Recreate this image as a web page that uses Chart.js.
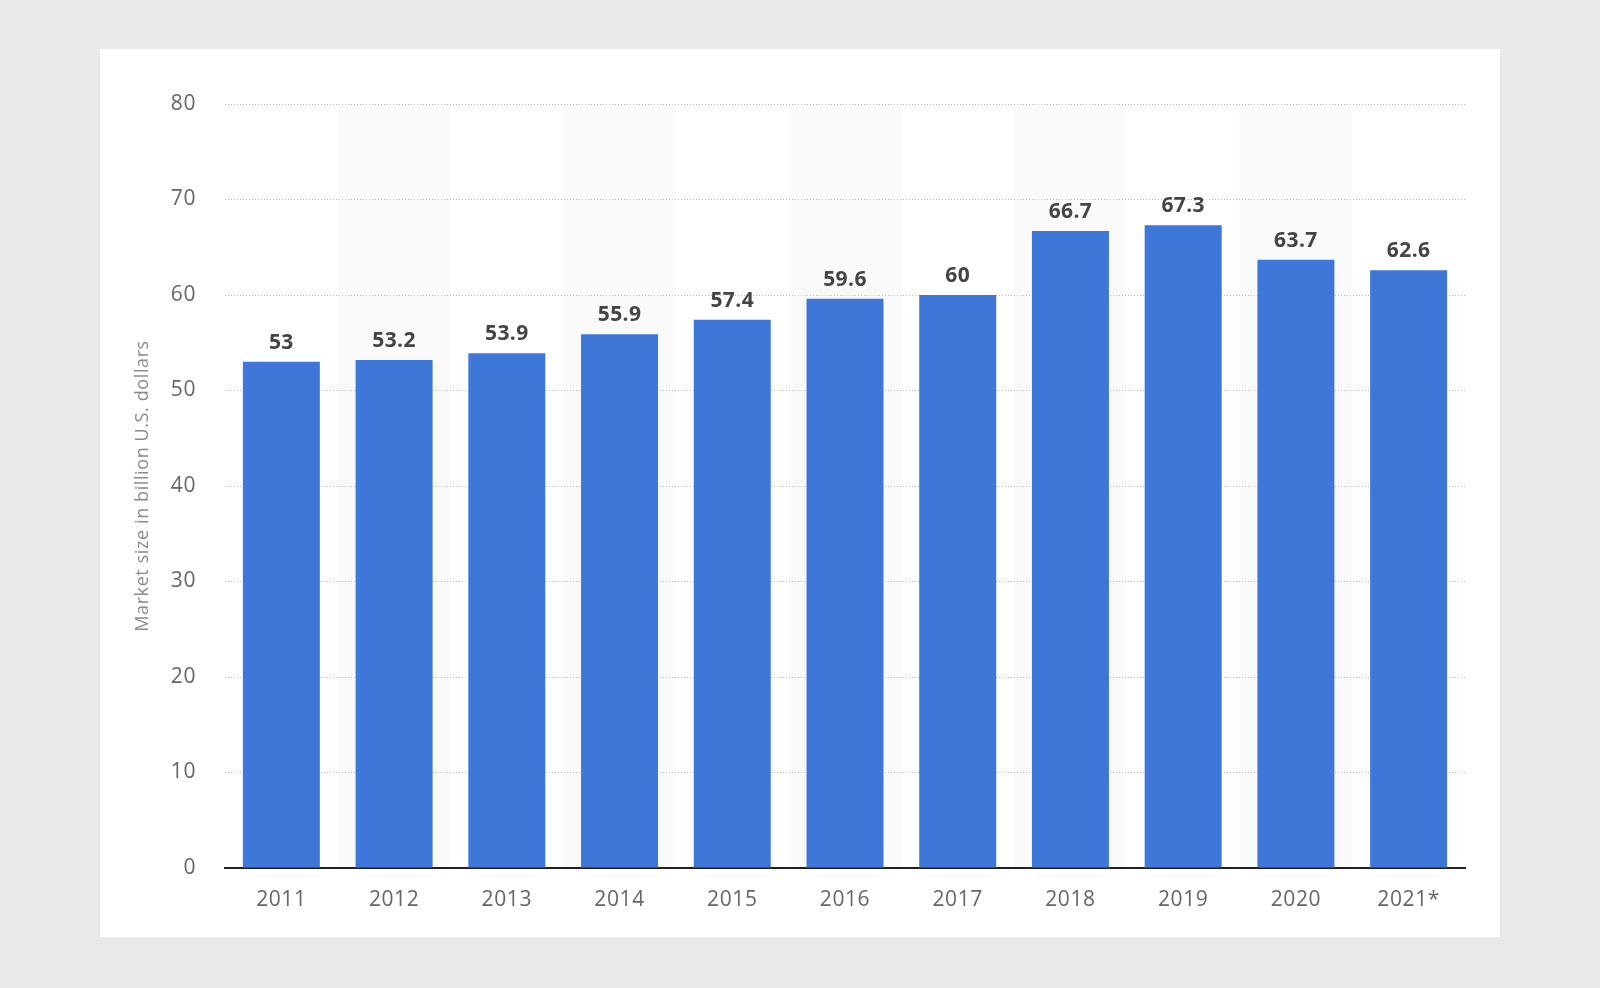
<!DOCTYPE html>
<html lang="en">
<head>
	<meta charset="UTF-8">
	<title>Market size</title>
	<script src="https://cdn.jsdelivr.net/npm/chart.js"></script>
	<style>
		html, body { margin: 0; padding: 0; background: #e9e9e9; }
		body { width: 1600px; height: 988px; position: relative; overflow: hidden; }
		#card { position: absolute; left: 100px; top: 49px; width: 1400px; height: 888px; background: #fff; }
		#card canvas { display: block; }
	</style>
</head>
<body>
	<div id="card"><canvas id="marketChart" width="1400" height="888"></canvas></div>
	<script>
	const years = ['2011', '2012', '2013', '2014', '2015', '2016', '2017', '2018', '2019', '2020', '2021*'];
	const marketSize = [53, 53.2, 53.9, 55.9, 57.4, 59.6, 60, 66.7, 67.3, 63.7, 62.6];
	const yTicks = [0, 10, 20, 30, 40, 50, 60, 70, 80];

	const FONT = "'Open Sans', 'DejaVu Sans', sans-serif";

	// light grey band behind every second category (drawn before the grid)
	const bandPlugin = {
		id: 'bands',
		beforeDraw(chart) {
			const { ctx, chartArea, scales } = chart;
			const x = scales.x;
			const step = x.getPixelForValue(1) - x.getPixelForValue(0);
			ctx.letterSpacing = '0.6px';
			ctx.save();
			ctx.fillStyle = '#fafafa';
			for (let i = 1; i < years.length; i += 2) {
				const c = x.getPixelForValue(i);
				ctx.fillRect(c - step / 2, chartArea.top, step, chartArea.bottom - chartArea.top);
			}
			ctx.restore();
		}
	};

	// value labels above the bars
	const labelPlugin = {
		id: 'valueLabels',
		afterDatasetsDraw(chart) {
			const { ctx } = chart;
			const meta = chart.getDatasetMeta(0);
			ctx.save();
			ctx.letterSpacing = '0.4px';
			ctx.font = `bold 21px ${FONT}`;
			ctx.fillStyle = '#444';
			ctx.textAlign = 'center';
			ctx.textBaseline = 'alphabetic';
			meta.data.forEach((bar, i) => {
				ctx.fillText(String(marketSize[i]), bar.x, bar.y - 13);
			});
			ctx.restore();
		}
	};

	const ctx = document.getElementById('marketChart').getContext('2d');
	new Chart(ctx, {
		type: 'bar',
		data: {
			labels: years,
			datasets: [{
				label: 'Market size',
				data: marketSize,
				backgroundColor: '#3e77d7',
				barPercentage: 0.683,
				categoryPercentage: 1
			}]
		},
		options: {
			responsive: false,
			animation: false,
			devicePixelRatio: 1,
			layout: { padding: { left: 0, right: 35, top: 55, bottom: 0 } },
			plugins: {
				legend: { display: false },
				tooltip: { enabled: false }
			},
			scales: {
				x: {
					z: 1,
					grid: { display: false, drawTicks: false },
					border: { display: true, color: '#222', width: 2 },
					ticks: { color: '#666', font: { family: FONT, size: 21 }, padding: 19 },
					afterFit(scale) { scale.height = 69; }
				},
				y: {
					min: 0,
					max: 80,
					afterBuildTicks(scale) { scale.ticks = yTicks.map(v => ({ value: v })); },
					grid: {
						drawTicks: false,
						color: c => c.tick && c.tick.value === 0 ? 'rgba(0,0,0,0)' : '#bdbdbd',
						lineWidth: 1
					},
					border: { display: false, dash: [1, 2] },
					ticks: { color: '#666', font: { family: FONT, size: 21 }, padding: 29 },
					title: {
						display: true,
						text: 'Market size in billion U.S. dollars',
						color: '#8a8a8a',
						font: { family: FONT, size: 18 },
						padding: { top: 32, bottom: 0 }
					},
					afterFit(scale) { scale.width = 125; }
				}
			}
		},
		plugins: [bandPlugin, labelPlugin]
	});
	</script>
</body>
</html>
